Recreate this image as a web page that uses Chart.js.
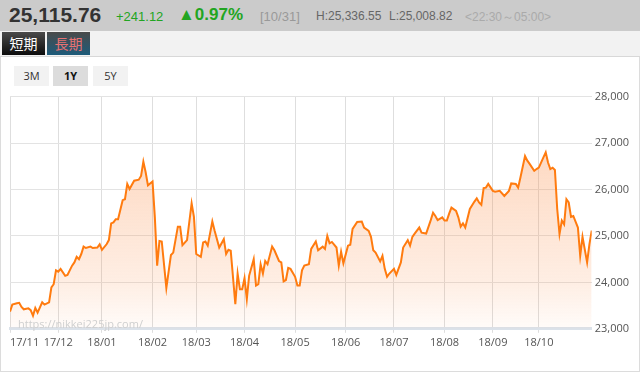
<!DOCTYPE html>
<html>
<head>
<meta charset="utf-8">
<script src="https://cdn.jsdelivr.net/npm/chart.js@4.4.1/dist/chart.umd.min.js"></script>
<style>
  html, body { margin: 0; padding: 0; background: #fff; }
  body { width: 640px; height: 375px; position: relative; overflow: hidden; font-family: "Liberation Sans", Arial, sans-serif; }
  .head { position: absolute; left: 0; top: 0; width: 640px; height: 31px; background: #cbcbcb; }
  .head span { position: absolute; white-space: nowrap; }
  .price { left: 9px; top: 3px; font-size: 21px; font-weight: bold; color: #333; }
  .chg { left: 116px; top: 9px; font-size: 13px; color: #22a522; }
  .pct { left: 178px; top: 5px; font-size: 17px; font-weight: bold; color: #22a522; }
  .date { left: 260px; top: 9px; font-size: 13px; color: #999; }
  .hi { left: 316px; top: 9px; font-size: 12px; color: #666; }
  .lo { left: 389px; top: 9px; font-size: 12px; color: #666; }
  .sess { left: 465px; top: 9px; font-size: 12px; color: #aaa; }
  .tabs { position: absolute; left: 0; top: 31px; width: 640px; height: 25px; background: #f2f2f2; border-bottom: 1px solid #d8d8d8; }
  .tab { position: absolute; top: 1px; height: 23px; width: 43px; line-height: 23px; text-align: center; font-family: "Noto Sans CJK JP", sans-serif; font-size: 14px; }
  .t1 { left: 2px; background: linear-gradient(#4a4a4a, #0c0c0c); color: #fff; }
  .t2 { left: 47px; background: linear-gradient(#4a4a4a, #1d5b7a); color: #e87272; }
  .frame { position: absolute; left: 0; top: 57px; width: 638px; height: 314px; border: 1px solid #dcdcdc; border-top: none; }
  .btn { position: absolute; top: 66px; width: 35px; height: 20px; line-height: 20px; text-align: center; font-family: "Open Sans", sans-serif; font-size: 11px; color: #333; background: #f2f2f2; }
  .b1 { left: 14px; }
  .b2 { left: 53px; background: #dcdcdc; font-weight: bold; color: #111; }
  .b3 { left: 93px; }
  #wrap { position: absolute; left: 0; top: 87px; width: 640px; height: 265px; }
  .mark { position: absolute; left: 18px; top: 316px; font-family: "Open Sans", sans-serif; font-size: 11px; color: #cfcfcf; pointer-events: none; }
</style>
</head>
<body>
<div class="head">
  <span class="price">25,115.76</span>
  <span class="chg">+241.12</span>
  <span class="pct">▲0.97%</span>
  <span class="date">[10/31]</span>
  <span class="hi">H:25,336.55</span>
  <span class="lo">L:25,008.82</span>
  <span class="sess">&lt;22:30～05:00&gt;</span>
</div>
<div class="tabs">
  <div class="tab t1">短期</div>
  <div class="tab t2">長期</div>
</div>
<div class="frame"></div>
<div class="btn b1">3M</div>
<div class="btn b2">1Y</div>
<div class="btn b3">5Y</div>
<div id="wrap"><canvas id="chart"></canvas></div>
<div class="mark">https://nikkei225jp.com/</div>

<script>
// trading-day index of each point (0 = first session of 17/11)
const days = [0,1,3,4,5,6,8,9,10,11,12,14,15,17,18,19,20,21,22,24,25,27,28,29,30,31,32,33,35,36,38,39,40,42,43,44,45,46,47,49,50,51,52,54,56,57,58,59,60,62,63,64,65,66,68,70,71,73,74,75,77,79,80,81,83,84,85,86,88,89,91,93,94,95,96,98,99,100,101,102,103,104,106,107,108,109,110,111,112,114,115,117,118,119,120,121,122,124,125,126,127,128,130,131,133,134,136,137,138,139,140,142,143,144,145,147,148,149,151,153,154,156,157,158,159,161,162,163,164,165,167,168,170,171,173,174,175,176,178,179,181,183,184,185,186,188,189,190,191,192,194,195,196,197,198,200,202,203,204,205,206,207,208,210,211,213,215,217,218,220,221,222,224,225,226,228,229,230,232,233,234,235,236,237,238,239,240,241,242,243,244,245,247,248,249,251,252,253];
const prices = [23370,23520,23550,23560,23470,23420,23440,23400,23280,23450,23350,23570,23520,23570,23890,23960,24260,24230,24290,24140,24160,24360,24430,24550,24500,24610,24770,24740,24770,24740,24750,24820,24700,24820,24910,25270,25290,25360,25360,25770,25790,26120,26010,26190,26210,26290,26600,26370,26090,26170,25400,24360,24890,24880,23880,24590,24640,25200,25200,24800,24910,25700,25410,24610,24550,24860,24880,24790,25310,25110,24750,24930,24610,24700,24680,23530,24190,23850,23850,24090,23640,24140,24500,23930,23960,24390,24190,24460,24390,24770,24690,24460,24430,24020,24050,24310,24290,24120,23930,23930,24260,24360,24390,24720,24880,24690,24770,24720,25000,24840,24870,24750,24360,24660,24410,24790,24810,25150,25300,25310,25180,25110,24980,24690,24640,24450,24570,24290,24120,24190,24290,24160,24430,24750,24910,24790,24980,25050,25180,25070,25050,25340,25500,25430,25340,25400,25330,25330,25480,25610,25540,25400,25200,25270,25180,25580,25740,25810,25720,25670,26030,26040,26120,25970,25950,25970,25860,25970,26130,26120,26040,26260,26720,26620,26550,26400,26440,26470,26690,26800,26580,26440,26470,26420,25580,25040,25330,25250,25790,25720,25410,25430,25180,24570,24980,24430,24820,25115.76];

const monthLabels = ['17/11','17/12','18/01','18/02','18/03','18/04','18/05','18/06','18/07','18/08','18/09','18/10'];
const monthStarts = [0,21,40,62,81,102,124,146,167,189,210,230];
const lastDay = 253;

const yTicks = [23000,24000,25000,26000,27000,28000];

const points = days.map((d, i) => ({ x: d, y: prices[i] }));

const ctx = document.getElementById('chart');
new Chart(ctx, {
  type: 'line',
  data: {
    datasets: [{
      data: points,
      borderColor: '#ff7b0f',
      borderWidth: 2,
      pointRadius: 0,
      tension: 0,
      fill: 'start',
      backgroundColor: (c) => {
        const area = c.chart.chartArea;
        if (!area) return 'rgba(250,140,70,0.2)';
        const g = c.chart.ctx.createLinearGradient(0, area.top, 0, area.bottom);
        g.addColorStop(0, 'rgba(250,140,70,0.40)');
        g.addColorStop(0.8, 'rgba(250,140,70,0.15)');
        g.addColorStop(1, 'rgba(250,140,70,0.03)');
        return g;
      }
    }]
  },
  options: {
    responsive: true,
    maintainAspectRatio: false,
    animation: false,
    layout: { padding: { left: 10, right: 8, top: 0, bottom: 0 } },
    plugins: { legend: { display: false }, tooltip: { enabled: false } },
    scales: {
      x: {
        type: 'linear',
        min: 0,
        max: lastDay,
        afterBuildTicks: (scale) => {
          scale.ticks = monthStarts.concat([lastDay]).map(v => ({ value: v }));
        },
        grid: {
          color: (c) => c.index === monthStarts.length ? 'rgba(0,0,0,0)' : '#dedede',
          tickLength: 4
        },
        border: { color: '#dbe2ea', width: 3 },
        ticks: {
          autoSkip: false,
          maxRotation: 0,
          align: 'inner',
          padding: 3,
          color: '#555',
          font: { family: 'Open Sans', size: 11 },
          callback: (v, i) => monthLabels[i] || ''
        }
      },
      y: {
        position: 'right',
        min: 23000,
        max: 28000,
        afterBuildTicks: (scale) => {
          scale.ticks = yTicks.map(v => ({ value: v }));
        },
        grid: { color: '#e3e3e3', drawTicks: false },
        border: { display: false },
        ticks: {
          padding: 3,
          color: '#555',
          font: { family: 'Open Sans', size: 11 },
          callback: (v) => v.toLocaleString('en-US')
        }
      }
    }
  }
});
</script>
</body>
</html>
